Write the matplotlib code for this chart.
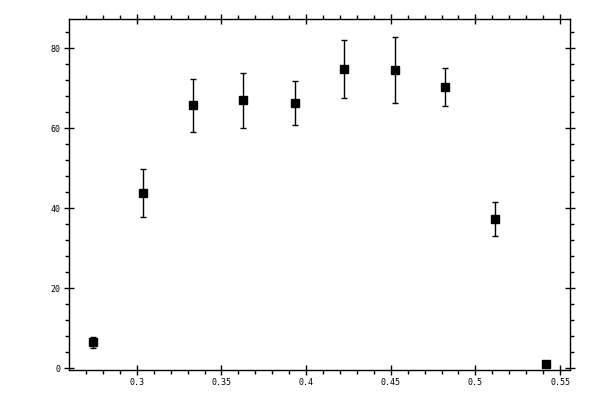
import matplotlib
matplotlib.use('Agg')
import matplotlib.pyplot as plt
from matplotlib.ticker import MultipleLocator

# data
x_vals = [0.2738, 0.3039, 0.3334, 0.3629, 0.3933, 0.4225, 0.4527, 0.4822, 0.5117, 0.5416]
y_vals = [6.55, 43.8, 65.8, 67.05, 66.3, 74.8, 74.55, 70.3, 37.3, 1.1]
y_err = [1.4, 6.0, 6.6, 6.9, 5.5, 7.25, 8.3, 4.8, 4.2, 0.0]

plt.rcParams['font.family'] = ['DejaVu Sans Mono']

fig = plt.figure(figsize=(6, 4), dpi=100)
ax = fig.add_axes([0.1158, 0.0758, 0.8342, 0.876])

ax.errorbar(x_vals, y_vals, yerr=y_err, fmt='s', color='black', ms=5.2,
            elinewidth=1, capsize=2.5, capthick=1)

ax.set_xlim(0.2602, 0.5559)
ax.set_ylim(-0.3, 87.3)

ax.xaxis.set_minor_locator(MultipleLocator(0.01))
ax.yaxis.set_minor_locator(MultipleLocator(4))

ax.set_xticks([0.3, 0.35, 0.4, 0.45, 0.5, 0.55])
ax.set_xticklabels(['0.3', '0.35', '0.4', '0.45', '0.5', '0.55'])
ax.set_yticks([0, 20, 40, 60, 80])
ax.set_yticklabels(['0', '20', '40', '60', '80'])

ax.tick_params(which='major', direction='inout', length=6.5, width=1,
               top=True, right=True, labelsize=6, pad=3)
ax.tick_params(which='minor', direction='out', length=3, width=1,
               top=True, right=True)
for s in ax.spines.values():
    s.set_linewidth(1)

fig.savefig('out.png', dpi=100)
